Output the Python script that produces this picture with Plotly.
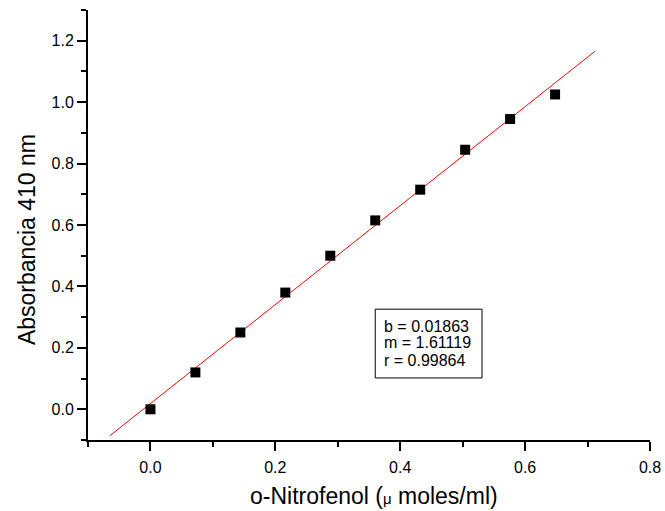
import plotly.graph_objects as go

x_vals = [0.0, 0.072, 0.144, 0.216, 0.288, 0.36, 0.432, 0.504, 0.576, 0.648]
y_vals = [0.0, 0.12, 0.25, 0.38, 0.50, 0.615, 0.715, 0.845, 0.945, 1.025]
fit_b = 0.01863
fit_m = 1.61119
fit_r = 0.99864
fit_x = [-0.065, 0.712]
fit_y = [fit_b + fit_m * v for v in fit_x]
stats_lines = [f"b = {fit_b:.5f}", f"m = {fit_m:.5f}", f"r = {fit_r:.5f}"]

font_family = "Liberation Sans, Arial, sans-serif"

fig = go.Figure()
fig.add_trace(go.Scatter(x=fit_x, y=fit_y, mode="lines",
                         line=dict(color="#ff0000", width=1), showlegend=False))
fig.add_trace(go.Scatter(x=x_vals, y=y_vals, mode="markers",
                         marker=dict(symbol="square", size=10, color="black",
                                     line=dict(width=0)), showlegend=False))

axis_common = dict(showline=True, linecolor="black", linewidth=2, ticks="outside",
                   ticklen=9, tickwidth=2, tickcolor="black", showgrid=False,
                   zeroline=False, mirror=False, automargin=False,
                   tickfont=dict(family=font_family, size=16, color="black"))

fig.update_xaxes(range=[-0.1, 0.8], tick0=0, dtick=0.2, tickformat=".1f",
                 ticklabelstandoff=3,
                 minor=dict(ticks="outside", ticklen=5, tickwidth=2, tickcolor="black", dtick=0.1, tick0=0),
                 **axis_common)
fig.update_yaxes(range=[-0.1, 1.3], tick0=0, dtick=0.2, tickformat=".1f",
                 minor=dict(ticks="outside", ticklen=5, tickwidth=2, tickcolor="black", dtick=0.1, tick0=0),
                 **axis_common)

# axis titles
fig.add_annotation(xref="paper", yref="paper", x=0.509, y=0, xanchor="center", yanchor="middle",
                   yshift=-56, showarrow=False,
                   text="o-Nitrofenol (<span style='font-size:15px'>μ</span> moles/ml)",
                   font=dict(family=font_family, size=23, color="black"))
fig.add_annotation(xref="paper", yref="paper", x=0, y=0.465, xanchor="center", yanchor="middle",
                   xshift=-61, showarrow=False, textangle=-90,
                   text="Absorbancia 410 nm",
                   font=dict(family=font_family, size=23, color="black"))

# stats box
fig.add_shape(type="rect", xref="x", yref="y", x0=0.36, x1=0.531, y0=0.102, y1=0.326,
              line=dict(color="black", width=1), fillcolor="white", layer="above")
for txt, yy in zip(stats_lines, [0.271, 0.216, 0.160]):
    fig.add_annotation(x=0.3715, y=yy, xref="x", yref="y", xanchor="left", yanchor="middle",
                       text=txt, showarrow=False, align="left",
                       font=dict(family=font_family, size=16, color="black"))

fig.update_layout(width=665, height=511, margin=dict(l=88, r=15, t=10, b=71),
                  plot_bgcolor="white", paper_bgcolor="white")

fig.write_html("out.html", config={"displayModeBar": False},
               post_script="document.body.style.margin='0';")
